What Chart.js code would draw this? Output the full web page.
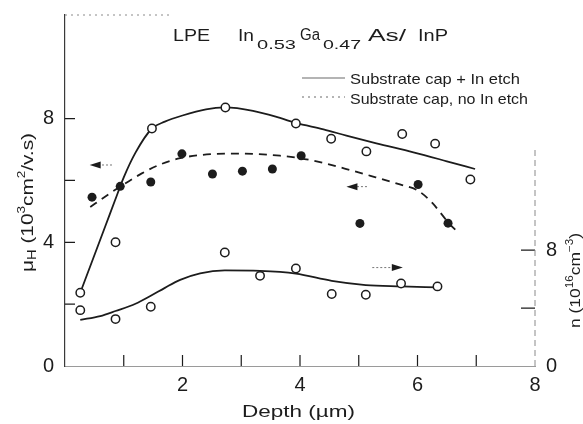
<!DOCTYPE html>
<html>
<head>
<meta charset="utf-8">
<script src="https://cdn.jsdelivr.net/npm/chart.js@4.4.1/dist/chart.umd.min.js"></script>
<style>
  html, body { margin: 0; padding: 0; background: #fff; }
  #chart { display: block; }
</style>
</head>
<body>
<canvas id="chart" width="583" height="424"></canvas>
<script>
// LPE In0.53Ga0.47As/InP — Hall mobility and carrier density vs depth

// measured points
const depthEtch = [0.26, 0.86, 1.48, 2.73, 3.93, 4.53, 5.13, 5.74, 6.30, 6.90];
const mobilityEtch = [2.37, 4.0, 7.68, 8.36, 7.84, 7.35, 6.94, 7.5, 7.19, 6.03];

const depthNoEtch = [0.46, 0.94, 1.46, 1.99, 2.51, 3.02, 3.53, 4.02, 5.02, 6.01, 6.52];
const mobilityNoEtch = [5.46, 5.81, 5.95, 6.86, 6.21, 6.30, 6.37, 6.80, 4.61, 5.87, 4.62];

const depthDensity = [0.26, 0.86, 1.46, 2.72, 3.32, 3.93, 4.54, 5.12, 5.72, 6.34];
const density = [3.86, 3.24, 4.09, 7.84, 6.23, 6.74, 4.97, 4.92, 5.70, 5.50];

// hand-drawn guide curves
const curveEtchDepth = [0.26, 0.5, 0.7, 0.85, 1.0, 1.2, 1.48, 1.7, 2.0, 2.4, 2.72, 3.2, 3.66, 3.93, 4.4, 4.79, 5.3, 5.93, 6.5, 6.98];
const curveEtchMobility = [2.37, 3.58, 4.59, 5.35, 6.1, 6.9, 7.68, 7.9, 8.1, 8.3, 8.36, 8.25, 8.02, 7.86, 7.65, 7.45, 7.2, 6.91, 6.62, 6.37];

const curveNoEtchDepth = [0.43, 0.7, 0.94, 1.3, 1.6, 1.96, 2.5, 3.0, 3.66, 4.0, 4.34, 4.79, 5.2, 5.7, 6.0, 6.26, 6.38, 6.52, 6.71];
const curveNoEtchMobility = [5.14, 5.5, 5.8, 6.22, 6.5, 6.72, 6.85, 6.87, 6.8, 6.72, 6.59, 6.37, 6.15, 5.87, 5.68, 5.26, 4.98, 4.65, 4.28];

const curveDensityDepth = [0.26, 0.6, 0.86, 1.2, 1.46, 1.7, 1.96, 2.3, 2.72, 3.32, 3.93, 4.54, 5.12, 5.72, 6.34];
const curveDensity = [3.19, 3.45, 3.8, 4.3, 4.85, 5.4, 5.95, 6.4, 6.6, 6.57, 6.38, 5.88, 5.59, 5.5, 5.43];

// axis labels
const depthLabels = [2, 4, 6, 8];
const mobilityLabels = [0, 4, 8];
const densityLabels = [0, 8];

const INK = "#1c1c1c";
const FONT = '"Liberation Sans", Arial, sans-serif';

function xy(xs, ys) { return xs.map((x, i) => ({ x, y: ys[i] })); }

// draw text squeezed/stretched to a target width
function fitText(ctx, txt, x, y, w) {
    const m = ctx.measureText(txt).width;
    ctx.save();
    ctx.translate(x, y);
    ctx.scale(w / m, 1);
    ctx.fillText(txt, 0, 0);
    ctx.restore();
}

// runs of [text, size, baselineShift] laid out along x, scaled to width w
function drawRuns(ctx, runs, x, y, w) {
    let total = 0;
    runs.forEach(r => { ctx.font = `${r[1]}px ${FONT}`; total += ctx.measureText(r[0]).width; });
    const k = w / total;
    ctx.save();
    ctx.translate(x, y);
    ctx.scale(k, 1);
    let cx = 0;
    runs.forEach(r => {
        ctx.font = `${r[1]}px ${FONT}`;
        ctx.fillText(r[0], cx, r[2]);
        cx += ctx.measureText(r[0]).width;
    });
    ctx.restore();
}

function arrow(ctx, x0, x1, y, dir) {
    // tail
    ctx.save();
    ctx.strokeStyle = "#777";
    ctx.lineWidth = 1;
    ctx.setLineDash([2, 2]);
    ctx.beginPath();
    ctx.moveTo(x0, y);
    ctx.lineTo(x1 - dir * 9, y);
    ctx.stroke();
    ctx.restore();
    // head
    ctx.beginPath();
    ctx.moveTo(x1, y);
    ctx.lineTo(x1 - dir * 11, y - 3.5);
    ctx.lineTo(x1 - dir * 11, y + 3.5);
    ctx.closePath();
    ctx.fill();
}

// keep the plot box where the figure has it
function noPad(s) { s.paddingTop = 0; s.paddingBottom = 0; s.paddingLeft = 0; s.paddingRight = 0; }

const decor = {
    id: "decor",
    afterDraw(chart) {
        const { ctx, chartArea: a, scales } = chart;
        const sx = scales.x, sy = scales.y, sy2 = scales.y2;
        ctx.save();
        ctx.fillStyle = INK;
        ctx.strokeStyle = INK;

        // inward tick marks
        ctx.lineWidth = 1.2;
        ctx.beginPath();
        [1, 2, 3, 4, 5, 6, 7].forEach(v => {
            const px = sx.getPixelForValue(v);
            ctx.moveTo(px, a.bottom); ctx.lineTo(px, a.bottom - 11);
        });
        [2, 4, 6, 8].forEach(v => {
            const py = sy.getPixelForValue(v);
            ctx.moveTo(a.left, py); ctx.lineTo(a.left + 10, py);
        });
        [4, 8].forEach(v => {
            const py = sy2.getPixelForValue(v);
            ctx.moveTo(a.right, py); ctx.lineTo(a.right - 14, py);
        });
        ctx.stroke();

        // faint right axis and partial top frame
        ctx.save();
        ctx.strokeStyle = "#8a8a8a";
        ctx.lineWidth = 1;
        ctx.setLineDash([6, 4]);
        ctx.beginPath();
        ctx.moveTo(a.right, a.bottom); ctx.lineTo(a.right, 150);
        ctx.stroke();
        ctx.setLineDash([2, 4]);
        ctx.beginPath();
        ctx.moveTo(a.left, a.top); ctx.lineTo(170, a.top);
        ctx.stroke();
        ctx.restore();

        // title
        ctx.textBaseline = "alphabetic";
        ctx.font = `16px ${FONT}`;
        fitText(ctx, "LPE", 173, 41, 37);
        fitText(ctx, "In", 238, 41, 16);
        fitText(ctx, "Ga", 300, 40, 20);
        fitText(ctx, "As/", 368, 41, 38);
        fitText(ctx, "InP", 418, 41, 30);
        ctx.font = `13px ${FONT}`;
        fitText(ctx, "0.53", 257, 49, 39);
        fitText(ctx, "0.47", 323, 49, 38);

        // legend
        ctx.save();
        ctx.strokeStyle = "#6a6a6a";
        ctx.lineWidth = 1.2;
        ctx.beginPath();
        ctx.moveTo(302, 78); ctx.lineTo(345, 78);
        ctx.stroke();
        ctx.setLineDash([2, 4]);
        ctx.beginPath();
        ctx.moveTo(302, 97); ctx.lineTo(345, 97);
        ctx.stroke();
        ctx.restore();
        ctx.font = `15px ${FONT}`;
        fitText(ctx, "Substrate cap + In etch", 350, 84, 170);
        fitText(ctx, "Substrate cap, no In etch", 350, 104, 178);

        // x axis title
        ctx.font = `17px ${FONT}`;
        fitText(ctx, "Depth (\u00b5m)", 242, 417, 113);

        // left axis title (rotated)
        ctx.save();
        ctx.translate(33, 272);
        ctx.rotate(-Math.PI / 2);
        drawRuns(ctx, [["\u03bc", 17, 0], ["H", 12, 3], [" (10", 17, 0], ["3", 11, -8],
            ["cm", 17, 0], ["2", 11, -8], ["/v.s)", 17, 0]], 0, 0, 139);
        ctx.restore();

        // right axis title (rotated)
        ctx.save();
        ctx.translate(580, 328);
        ctx.rotate(-Math.PI / 2);
        drawRuns(ctx, [["n (10", 15, 0], ["16", 10, -7], ["cm", 15, 0], ["\u22123", 10, -7], [")", 15, 0]],
            0, 0, 95);
        ctx.restore();

        // direction arrows (which axis each curve belongs to)
        arrow(ctx, sx.getPixelForValue(0.8), sx.getPixelForValue(0.42), sy.getPixelForValue(6.5), -1);
        arrow(ctx, sx.getPixelForValue(5.14), sx.getPixelForValue(4.79), sy.getPixelForValue(5.8), -1);
        arrow(ctx, sx.getPixelForValue(5.23), sx.getPixelForValue(5.75), sy2.getPixelForValue(6.8), 1);

        ctx.restore();
    }
};

const tickFont = { family: FONT, size: 20 };

new Chart(document.getElementById("chart"), {
    type: "line",
    data: {
        datasets: [
            {
                label: "Substrate cap + In etch",
                data: xy(depthEtch, mobilityEtch),
                yAxisID: "y",
                showLine: false,
                pointRadius: 4.2,
                pointBorderWidth: 1.5,
                pointBorderColor: INK,
                pointBackgroundColor: "#fff",
            },
            {
                label: "Substrate cap, no In etch",
                data: xy(depthNoEtch, mobilityNoEtch),
                yAxisID: "y",
                showLine: false,
                pointRadius: 4.5,
                pointBorderWidth: 0,
                pointBackgroundColor: INK,
            },
            {
                label: "n",
                data: xy(depthDensity, density),
                yAxisID: "y2",
                showLine: false,
                pointRadius: 4.2,
                pointBorderWidth: 1.5,
                pointBorderColor: INK,
                pointBackgroundColor: "#fff",
            },
            {
                label: "fit etch",
                data: xy(curveEtchDepth, curveEtchMobility),
                yAxisID: "y",
                borderColor: INK,
                borderWidth: 1.8,
                pointRadius: 0,
                cubicInterpolationMode: "monotone",
            },
            {
                label: "fit no etch",
                data: xy(curveNoEtchDepth, curveNoEtchMobility),
                yAxisID: "y",
                borderColor: INK,
                borderWidth: 1.8,
                borderDash: [8, 6],
                pointRadius: 0,
                cubicInterpolationMode: "monotone",
            },
            {
                label: "fit n",
                data: xy(curveDensityDepth, curveDensity),
                yAxisID: "y2",
                borderColor: INK,
                borderWidth: 1.8,
                pointRadius: 0,
                cubicInterpolationMode: "monotone",
            },
        ],
    },
    options: {
        responsive: false,
        animation: false,
        layout: { padding: { top: 15, left: 0, right: 0, bottom: 0 } },
        plugins: { legend: { display: false }, tooltip: { enabled: false } },
        scales: {
            x: {
                type: "linear", min: 0, max: 8,
                afterFit: s => { s.height = 58; noPad(s); },
                grid: { display: false, drawTicks: false },
                border: { color: "#9a9a9a", width: 1, dash: [2, 3] },
                ticks: {
                    stepSize: 1, padding: 7, autoSkip: false, maxRotation: 0,
                    color: INK, font: tickFont,
                    callback: v => depthLabels.includes(v) ? String(v) : "",
                },
            },
            y: {
                type: "linear", position: "left", min: 0, max: 11.35,
                afterFit: s => { s.width = 65; noPad(s); },
                grid: { display: false, drawTicks: false },
                border: { color: "#3a3a3a", width: 1.2 },
                ticks: {
                    stepSize: 2, padding: 11, color: INK, font: tickFont,
                    callback: v => mobilityLabels.includes(v) ? String(v) : "",
                },
            },
            y2: {
                type: "linear", position: "right", min: 0, max: 24.25,
                afterFit: s => { s.width = 48; noPad(s); },
                grid: { display: false, drawTicks: false },
                border: { display: false },
                ticks: {
                    stepSize: 4, padding: 11, color: INK, font: tickFont,
                    callback: v => densityLabels.includes(v) ? String(v) : "",
                },
            },
        },
    },
    plugins: [decor],
});
</script>
</body>
</html>
